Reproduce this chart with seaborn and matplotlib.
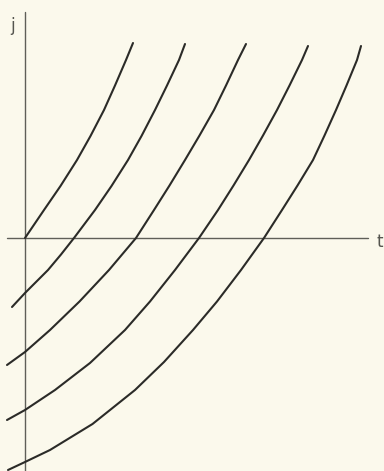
import matplotlib
matplotlib.use("Agg")
import matplotlib.pyplot as plt
import seaborn as sns
import pandas as pd

# Values (t, j) for five curves
t1 = [0.0, 1.9, 3.55, 5.2, 6.55, 7.9, 9.0, 10.1, 10.8]
j1 = [0.0, 2.8, 5.2, 7.8, 10.2, 12.8, 15.25, 17.8, 19.5]

t2 = [-1.3, 0.0, 2.3, 3.6, 4.9, 7.0, 8.65, 10.3, 11.65, 13.0, 14.2, 15.4, 16.0]
j2 = [-6.9, -5.5, -3.2, -1.65, 0.0, 2.8, 5.2, 7.8, 10.2, 12.8, 15.25, 17.8, 19.4]

t3 = [-1.8, 0.0, 2.5, 5.45, 8.4, 11.1, 12.9, 14.45, 16.0, 17.45, 18.9, 20.1, 21.3, 22.1]
j3 = [-12.7, -11.4, -9.2, -6.35, -3.2, 0.0, 2.8, 5.25, 7.8, 10.25, 12.8, 15.25, 17.8, 19.4]

t4 = [-1.8, 0.0, 3.0, 6.5, 10.0, 12.5, 15.0, 17.4, 19.3, 20.85, 22.4, 23.8, 25.2, 26.45, 27.7, 28.3]
j4 = [-18.2, -17.2, -15.2, -12.5, -9.2, -6.35, -3.2, 0.0, 2.8, 5.25, 7.8, 10.25, 12.8, 15.25, 17.8, 19.2]

t5 = [-1.7, 0.0, 2.5, 6.75, 11.0, 13.9, 16.8, 19.2, 21.6, 23.9, 25.7, 27.25, 28.8, 29.95, 31.1, 32.15, 33.2, 33.6]
j5 = [-23.2, -22.4, -21.2, -18.6, -15.2, -12.4, -9.2, -6.35, -3.2, 0.0, 2.8, 5.25, 7.8, 10.25, 12.8, 15.25, 17.8, 19.2]

curves = ["1", "2", "3", "4", "5"]
axis_label_x = "t"
axis_label_y = "j"

frames = []
for name, ts, js in zip(curves, [t1, t2, t3, t4, t5], [j1, j2, j3, j4, j5]):
    frames.append(pd.DataFrame({"t": ts, "j": js, "curve": name}))
df = pd.concat(frames, ignore_index=True)

sns.set_style("white")
bg = "#fbf9ec"
fig = plt.figure(figsize=(3.84, 4.71), dpi=100, facecolor=bg)
ax = fig.add_axes([0, 0, 1, 1], facecolor=bg)

# coordinate axes through the origin
ax.plot([0, 0], [-23.4, 22.6], color="#5f5f58", lw=1.0, zorder=1)
ax.plot([-1.8, 34.3], [0, 0], color="#5f5f58", lw=1.0, zorder=1)

sns.lineplot(data=df, x="t", y="j", hue="curve", units="curve", estimator=None,
             sort=False, palette=["#2b2b28"] * 5, linewidth=1.5, legend=False, ax=ax)
for ln in ax.get_lines():
    ln.set_solid_joinstyle("round")

ax.text(-1.25, 21.2, axis_label_y, fontsize=12, color="#55554f", ha="center", va="center",
        family="DejaVu Sans")
ax.text(35.5, -0.4, axis_label_x, fontsize=12, color="#55554f", ha="center", va="center",
        family="DejaVu Sans")

ax.set_xlim(-2.5, 35.9)
ax.set_ylim(-23.3, 23.8)
ax.set_xlabel("")
ax.set_ylabel("")
ax.set_xticks([])
ax.set_yticks([])
for s in ax.spines.values():
    s.set_visible(False)

fig.savefig("out.png", dpi=100, facecolor=bg)
